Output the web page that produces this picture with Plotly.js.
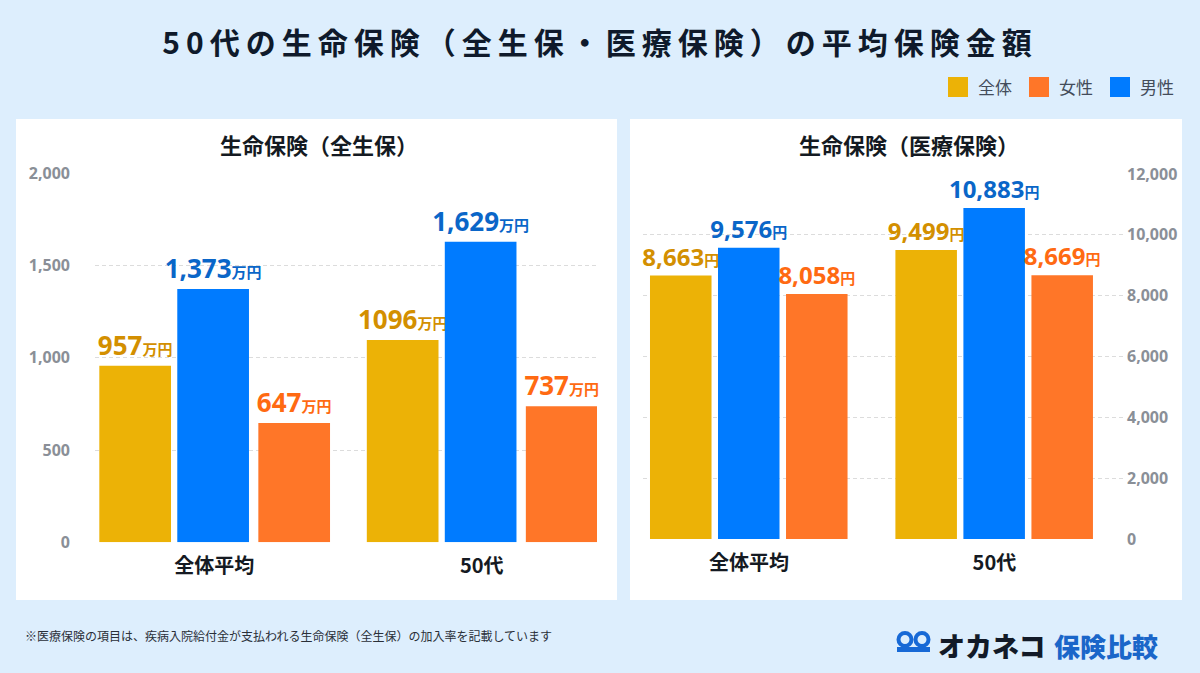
<!DOCTYPE html>
<html>
<head>
<meta charset="utf-8">
<script src="https://cdn.plot.ly/plotly-3.0.1.min.js"></script>
<style>
  html, body { margin: 0; padding: 0; background: #ddeefd; }
  #chart { width: 1200px; height: 673px; }
  .gtitle { letter-spacing: 6px; }
</style>
</head>
<body>
<div id="chart"></div>
<script>
// ---------- data ----------
const categories = ['全体平均', '50代'];
const seriesNames = ['全体', '男性', '女性'];
const legendOrder = ['全体', '女性', '男性'];

// 生命保険（全生保） 万円
const zenseiAll = [957, 1096];
const zenseiMale = [1373, 1629];
const zenseiFemale = [647, 737];
const zenseiAllLabels = ['957', '1096'];
const zenseiMaleLabels = ['1,373', '1,629'];
const zenseiFemaleLabels = ['647', '737'];

// 生命保険（医療保険） 円
const iryoAll = [8663, 9499];
const iryoMale = [9576, 10883];
const iryoFemale = [8058, 8669];
const iryoAllLabels = ['8,663', '9,499'];
const iryoMaleLabels = ['9,576', '10,883'];
const iryoFemaleLabels = ['8,058', '8,669'];

const leftTicks = [0, 500, 1000, 1500, 2000];
const rightTicks = [0, 2000, 4000, 6000, 8000, 10000, 12000];

const mainTitle = '50代の生命保険（全生保・医療保険）の平均保険金額';
const leftTitle = '生命保険（全生保）';
const rightTitle = '生命保険（医療保険）';
const footnote = '※医療保険の項目は、疾病入院給付金が支払われる生命保険（全生保）の加入率を記載しています';

// ---------- styles ----------
const barColors = { '全体': '#ecb206', '男性': '#007bff', '女性': '#ff7628' };
const textColors = { '全体': '#d38f00', '男性': '#0a66c8', '女性': '#ff6a12' };
const W = 1200, H = 673;
const X = px => px / W;
const Y = py => 1 - py / H;
const FONT = '"Noto Sans", "Noto Sans CJK JP", sans-serif';
const CJK = '"Noto Sans CJK JP", sans-serif';

function barTrace(name, xa, ya, vals, labels, unit, offset, width, numSize, unitSize) {
  return {
    type: 'bar', name: name, x: categories, y: vals, text: labels,
    xaxis: xa, yaxis: ya,
    offset: offset, width: width,
    marker: { color: barColors[name], line: { width: 0 } },
    texttemplate: '%{text}<span style="font-size:' + unitSize + 'px">' + unit + '</span>',
    textposition: 'outside', constraintext: 'none', cliponaxis: false,
    textfont: { family: FONT, size: numSize, weight: 700, color: textColors[name] },
    showlegend: false, hoverinfo: 'skip'
  };
}

const data = [
  barTrace('全体', 'x', 'y', zenseiAll, zenseiAllLabels, '万円', -0.4295, 0.268, 26, 15),
  barTrace('男性', 'x', 'y', zenseiMale, zenseiMaleLabels, '万円', -0.138, 0.268, 26, 15),
  barTrace('女性', 'x', 'y', zenseiFemale, zenseiFemaleLabels, '万円', 0.165, 0.268, 26, 15),
  barTrace('全体', 'x2', 'y2', iryoAll, iryoAllLabels, '円', -0.4035, 0.2507, 24, 15),
  barTrace('男性', 'x2', 'y2', iryoMale, iryoMaleLabels, '円', -0.1264, 0.2507, 24, 15),
  barTrace('女性', 'x2', 'y2', iryoFemale, iryoFemaleLabels, '円', 0.1508, 0.2507, 24, 15)
];

const gridStyle = { showgrid: true, gridcolor: '#dcdcdc', gridwidth: 1, griddash: '4px,3px', zeroline: false, showline: false, ticks: '' };
const yTickFont = { family: FONT, size: 16, weight: 700, color: '#8a8f97' };
const xTickFont = { family: CJK, size: 20, weight: 700, color: '#151a22' };

const shapes = [
  { type: 'rect', xref: 'paper', yref: 'paper', x0: X(16), x1: X(617), y0: Y(600), y1: Y(119), fillcolor: '#ffffff', line: { width: 0 }, layer: 'below' },
  { type: 'rect', xref: 'paper', yref: 'paper', x0: X(630), x1: X(1182), y0: Y(600), y1: Y(119), fillcolor: '#ffffff', line: { width: 0 }, layer: 'below' },
  // logo icon
  { type: 'circle', xref: 'paper', yref: 'paper', x0: X(898.5), x1: X(911.5), y0: Y(646), y1: Y(633), line: { color: '#1769d6', width: 4 }, fillcolor: 'rgba(0,0,0,0)' },
  { type: 'circle', xref: 'paper', yref: 'paper', x0: X(915.5), x1: X(928.5), y0: Y(646), y1: Y(633), line: { color: '#1769d6', width: 4 }, fillcolor: 'rgba(0,0,0,0)' },
  { type: 'rect', xref: 'paper', yref: 'paper', x0: X(897), x1: X(930), y0: Y(652), y1: Y(647), line: { width: 0 }, fillcolor: '#1769d6' }
];

const annotations = [
  { text: leftTitle, xref: 'paper', yref: 'paper', x: X(319), y: Y(144), xanchor: 'center', yanchor: 'middle', showarrow: false, font: { family: CJK, size: 22, weight: 700, color: '#141a22' } },
  { text: rightTitle, xref: 'paper', yref: 'paper', x: X(909), y: Y(144), xanchor: 'center', yanchor: 'middle', showarrow: false, font: { family: CJK, size: 22, weight: 700, color: '#141a22' } },
  { text: footnote, xref: 'paper', yref: 'paper', x: X(23), y: Y(635), xanchor: 'left', yanchor: 'middle', showarrow: false, font: { family: CJK, size: 12, color: '#2a2f38' } },
  { text: 'オカネコ', xref: 'paper', yref: 'paper', x: X(936), y: Y(645), xanchor: 'left', yanchor: 'middle', showarrow: false, font: { family: CJK, size: 27, weight: 900, color: '#121a28' } },
  { text: '保険比較', xref: 'paper', yref: 'paper', x: X(1052), y: Y(645), xanchor: 'left', yanchor: 'middle', showarrow: false, font: { family: CJK, size: 26, weight: 900, color: '#1a66c9' } }
];

// legend (manual, to match large square swatches)
const legendX = [948, 1029, 1110];
legendOrder.forEach((name, i) => {
  shapes.push({ type: 'rect', xref: 'paper', yref: 'paper', x0: X(legendX[i]), x1: X(legendX[i] + 20), y0: Y(97), y1: Y(77), fillcolor: barColors[name], line: { width: 0 } });
  annotations.push({ text: name, xref: 'paper', yref: 'paper', x: X(legendX[i] + 28), y: Y(87), xanchor: 'left', yanchor: 'middle', showarrow: false, font: { family: CJK, size: 17, color: '#434c5a' } });
});

const layout = {
  width: W, height: H,
  paper_bgcolor: '#ddeefd', plot_bgcolor: '#ffffff',
  margin: { l: 0, r: 0, t: 0, b: 0, pad: 0 },
  barmode: 'overlay',
  showlegend: false,
  title: { text: mainTitle, x: 0.5, xanchor: 'center', y: Y(43), yanchor: 'middle', font: { family: CJK, size: 30, weight: 700, color: '#0f1a2b' } },
  xaxis: { domain: [X(95), X(597)], range: [-0.4456, 1.431], type: 'category', showgrid: false, zeroline: false, showline: false, ticks: '', tickfont: xTickFont, ticklabelstandoff: 10, anchor: 'y', fixedrange: true },
  yaxis: Object.assign({}, gridStyle, { domain: [Y(542.3), Y(173.3)], range: [0, 2000], tickvals: leftTicks, tickformat: ',d', tickfont: yTickFont, ticklabelstandoff: 24, anchor: 'x', fixedrange: true }),
  xaxis2: { domain: [X(643), X(1124)], range: [-0.432, 1.528], type: 'category', showgrid: false, zeroline: false, showline: false, ticks: '', tickfont: xTickFont, ticklabelstandoff: 10, anchor: 'y2', fixedrange: true },
  yaxis2: Object.assign({}, gridStyle, { domain: [Y(539), Y(174)], range: [0, 12000], tickvals: rightTicks, tickformat: ',d', side: 'right', tickfont: yTickFont, ticklabelstandoff: 2, anchor: 'x2', fixedrange: true }),
  shapes: shapes,
  annotations: annotations
};

Plotly.newPlot('chart', data, layout, { displayModeBar: false, staticPlot: true });
</script>
</body>
</html>
